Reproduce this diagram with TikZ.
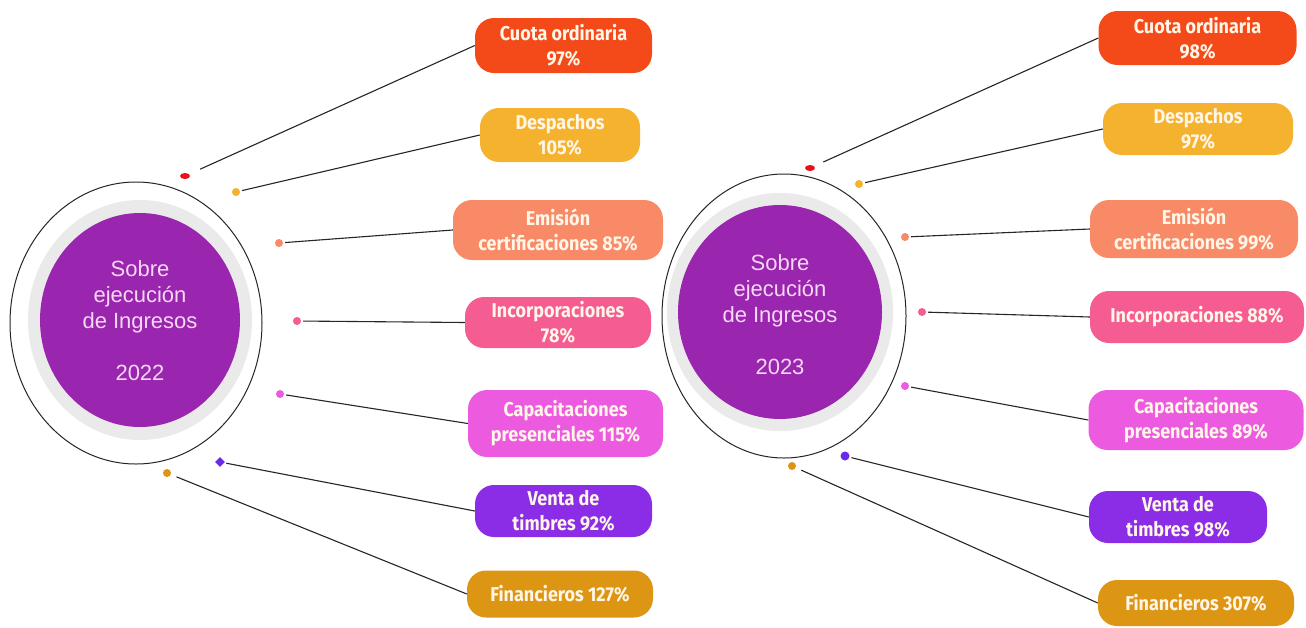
\documentclass[tikz,border=0pt]{standalone}
\usepackage{fontspec}
\setmainfont{Liberation Sans}
\newfontfamily\boxfont[FakeStretch=0.9]{Fira Sans}
\usetikzlibrary{shapes.geometric}
\definecolor{cred}{HTML}{F44A1A}
\definecolor{camber}{HTML}{F5B22E}
\definecolor{csalmon}{HTML}{F98A67}
\definecolor{cpink}{HTML}{F55C92}
\definecolor{cmag}{HTML}{EC5BDF}
\definecolor{cviolet}{HTML}{8B2CE6}
\definecolor{cgold}{HTML}{DD9514}
\definecolor{cpurple}{HTML}{9A25AE}
\definecolor{cring}{HTML}{EAEAEA}
\definecolor{ctext}{HTML}{FFF6E8}
\definecolor{cctext}{HTML}{F7D8F5}
\definecolor{dred}{HTML}{E8101A}
\definecolor{dviolet}{HTML}{6A2BE8}
\tikzset{
  pill/.style={rectangle, rounded corners=19pt, inner sep=0pt, align=center,
    text=ctext, font=\boxfont\bfseries\fontsize{20}{25}\selectfont},
  dotn/.style={circle, inner sep=0pt, minimum size=8pt},
  conn/.style={draw=black!85, line width=1.1pt, shorten <=2pt},
  outerring/.style={draw=black!85, line width=1pt, fill=white},
  centertext/.style={align=center, text=cctext, font=\fontsize{22}{26}\selectfont}
}
\begin{document}
\begin{tikzpicture}[x=1pt,y=-1pt]
\useasboundingbox (0,0) rectangle (1306,627);
\fill[white] (0,0) rectangle (1306,627);

% ---------- 2022 ----------
\draw[outerring] (136,323) ellipse [x radius=126, y radius=141];
\fill[cring] (140,320) ellipse [x radius=112, y radius=120];
\fill[cpurple] (140,320) ellipse [x radius=100, y radius=107];
\node[centertext] (c22) at (140,321) {Sobre\\ejecución\\de Ingresos\\[26pt]2022};

\node[pill, fill=cred, minimum width=177pt, minimum height=55pt] (a1) at (563.5,45.5) {Cuota ordinaria\\97\%};
\node[pill, fill=camber, minimum width=160pt, minimum height=54pt] (a2) at (560,135) {Despachos\\105\%};
\node[pill, fill=csalmon, minimum width=210pt, minimum height=60pt] (a3) at (558,230) {Emisión\\certificaciones 85\%};
\node[pill, fill=cpink, minimum width=186pt, minimum height=51pt] (a4) at (558,322.5) {Incorporaciones\\78\%};
\node[pill, fill=cmag, minimum width=195pt, minimum height=67pt] (a5) at (565.5,423.5) {Capacitaciones\\presenciales 115\%};
\node[pill, fill=cviolet, minimum width=177pt, minimum height=52pt] (a6) at (563.5,511) {Venta de\\timbres 92\%};
\node[pill, fill=cgold, minimum width=186pt, minimum height=47pt] (a7) at (560,594) {Financieros 127\%};

\node[dotn, ellipse, minimum width=10pt, minimum height=6pt, fill=dred] (p1) at (185,176) {};
\node[dotn, fill=camber] (p2) at (236,192) {};
\node[dotn, fill=csalmon] (p3) at (279,243) {};
\node[dotn, fill=cpink] (p4) at (297,321) {};
\node[dotn, fill=cmag] (p5) at (280,394) {};
\node[dotn, diamond, minimum size=10pt, fill=dviolet] (p6) at (220,462) {};
\node[dotn, fill=cgold] (p7) at (167,473) {};

\draw[conn, shorten <=12pt] (p1) -- (a1.west);
\draw[conn] (p2) -- (a2.west);
\draw[conn] (p3) -- (a3.west);
\draw[conn] (p4) -- (a4.west);
\draw[conn] (p5) -- (a5.west);
\draw[conn] (p6) -- (a6.west);
\draw[conn, shorten <=6pt] (p7) -- (a7.west);

% ---------- 2023 ----------
\draw[outerring] (784,316) ellipse [x radius=122, y radius=142];
\fill[cring] (780,312) ellipse [x radius=113, y radius=119];
\fill[cpurple] (780,312) ellipse [x radius=102, y radius=107];
\node[centertext] (c23) at (780,315) {Sobre\\ejecución\\de Ingresos\\[26pt]2023};

\node[pill, fill=cred, minimum width=198pt, minimum height=54pt] (b1) at (1197.5,38) {Cuota ordinaria\\98\%};
\node[pill, fill=camber, minimum width=190pt, minimum height=52pt] (b2) at (1198,129) {Despachos\\97\%};
\node[pill, fill=csalmon, minimum width=208pt, minimum height=58pt] (b3) at (1194,229) {Emisión\\certificaciones 99\%};
\node[pill, fill=cpink, minimum width=214pt, minimum height=52pt] (b4) at (1197,317) {Incorporaciones 88\%};
\node[pill, fill=cmag, minimum width=215pt, minimum height=60pt] (b5) at (1196,420) {Capacitaciones\\presenciales 89\%};
\node[pill, fill=cviolet, minimum width=178pt, minimum height=52pt] (b6) at (1178,517) {Venta de\\timbres 98\%};
\node[pill, fill=cgold, minimum width=196pt, minimum height=46pt] (b7) at (1196,603) {Financieros 307\%};

\node[dotn, ellipse, minimum width=10pt, minimum height=6pt, fill=dred] (q1) at (810,168) {};
\node[dotn, fill=camber] (q2) at (859,184) {};
\node[dotn, fill=csalmon] (q3) at (905,237) {};
\node[dotn, fill=cpink] (q4) at (922,312) {};
\node[dotn, fill=cmag] (q5) at (905,386) {};
\node[dotn, minimum size=9pt, fill=dviolet] (q6) at (845,456) {};
\node[dotn, fill=cgold] (q7) at (792,466) {};

\draw[conn, shorten <=10pt] (q1) -- (b1.west);
\draw[conn] (q2) -- (b2.west);
\draw[conn] (q3) -- (b3.west);
\draw[conn] (q4) -- (b4.west);
\draw[conn] (q5) -- (b5.west);
\draw[conn] (q6) -- (b6.west);
\draw[conn, shorten <=6pt] (q7) -- (b7.west);
\end{tikzpicture}
\end{document}
